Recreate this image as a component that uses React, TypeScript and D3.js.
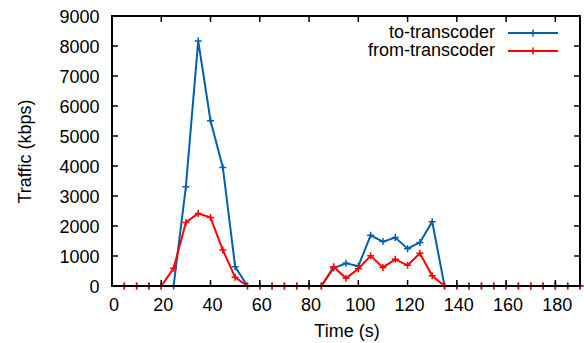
import React from "react";
import * as d3 from "d3";

const times = [5, 10, 15, 20, 25, 30, 35, 40, 45, 50, 55, 60, 65, 70, 75, 80, 85, 90, 95, 100, 105, 110, 115, 120, 125, 130, 135, 140, 145, 150, 155, 160, 165, 170, 175, 180, 185, 190];
const toTranscoder = [0, 0, 0, 0, 0, 3310, 8170, 5510, 3950, 640, 0, 0, 0, 0, 0, 0, 0, 600, 755, 660, 1690, 1480, 1615, 1245, 1450, 2145, 0, 0, 0, 0, 0, 0, 0, 0, 0, 0, 0, 0];
const fromTranscoder = [0, 0, 0, 0, 590, 2120, 2420, 2280, 1200, 290, 0, 0, 0, 0, 0, 0, 0, 640, 255, 575, 1005, 620, 890, 690, 1090, 340, 0, 0, 0, 0, 0, 0, 0, 0, 0, 0, 0, 0];
const xTicks = [0, 20, 40, 60, 80, 100, 120, 140, 160, 180];
const yTicks = [0, 1000, 2000, 3000, 4000, 5000, 6000, 7000, 8000, 9000];
const seriesNames = ["to-transcoder", "from-transcoder"];
const seriesColors = ["#0060ad", "#ff0000"];

const W = 584, H = 343;
const L = 112, R = 580, T = 16, B = 286;
const FONT = "'Liberation Sans', Arial, sans-serif";
const FS = 18;

export default function App() {
  const x = d3.scaleLinear().domain([0, 190]).range([L, R]);
  const y = d3.scaleLinear().domain([0, 9000]).range([B, T]);
  const line = d3.line<number>().x((_, i) => x(times[i])).y((d) => y(d));
  const series = [toTranscoder, fromTranscoder];
  const ms = 3.5;
  const tick = 6;
  const plus = (cx: number, cy: number, color: string, key: string) => (
    <path key={key} d={`M${cx - ms},${cy}H${cx + ms}M${cx},${cy - ms}V${cy + ms}`} stroke={color} strokeWidth={1.5} fill="none" />
  );
  return (
    <svg width={W} height={H} style={{ position: "absolute", left: 0, top: 0, background: "#fff" }} fontFamily={FONT}>
      <rect x={0} y={0} width={W} height={H} fill="#fff" />
      {series.map((s, si) => (
        <g key={si}>
          <path d={line(s) || ""} fill="none" stroke={seriesColors[si]} strokeWidth={2} strokeLinejoin="miter" />
          {s.map((v, i) => plus(x(times[i]), y(v), seriesColors[si], `${si}-${i}`))}
        </g>
      ))}
      {xTicks.map((t) => (
        <g key={"xt" + t}>
          <line x1={x(t)} x2={x(t)} y1={B} y2={B - tick} stroke="#000" strokeWidth={1.5} />
          <line x1={x(t)} x2={x(t)} y1={T} y2={T + tick} stroke="#000" strokeWidth={1.5} />
          <text x={x(t) + 2} y={311} fontSize={FS} textAnchor="middle" fill="#000">{t}</text>
        </g>
      ))}
      {yTicks.map((t) => (
        <g key={"yt" + t}>
          <line x1={L} x2={L + tick} y1={y(t)} y2={y(t)} stroke="#000" strokeWidth={1.5} />
          <line x1={R} x2={R - tick} y1={y(t)} y2={y(t)} stroke="#000" strokeWidth={1.5} />
          <text x={99.5} y={y(t) + 6.5} fontSize={FS} textAnchor="end" fill="#000">{t}</text>
        </g>
      ))}
      <rect x={L} y={T} width={R - L} height={B - T} fill="none" stroke="#000" strokeWidth={2} />
      <text x={347} y={337} fontSize={FS} textAnchor="middle" fill="#000">Time (s)</text>
      <text transform={`translate(30.5,${151.5}) rotate(-90)`} fontSize={FS} textAnchor="middle" fill="#000">Traffic (kbps)</text>
      {seriesNames.map((n, i) => {
        const ly = 33 + i * 18;
        return (
          <g key={n}>
            <text x={495} y={ly + 5} fontSize={FS} textAnchor="end" fill="#000">{n}</text>
            <line x1={508} x2={558} y1={ly} y2={ly} stroke={seriesColors[i]} strokeWidth={2} />
            {plus(533, ly, seriesColors[i], "leg" + i)}
          </g>
        );
      })}
    </svg>
  );
}
